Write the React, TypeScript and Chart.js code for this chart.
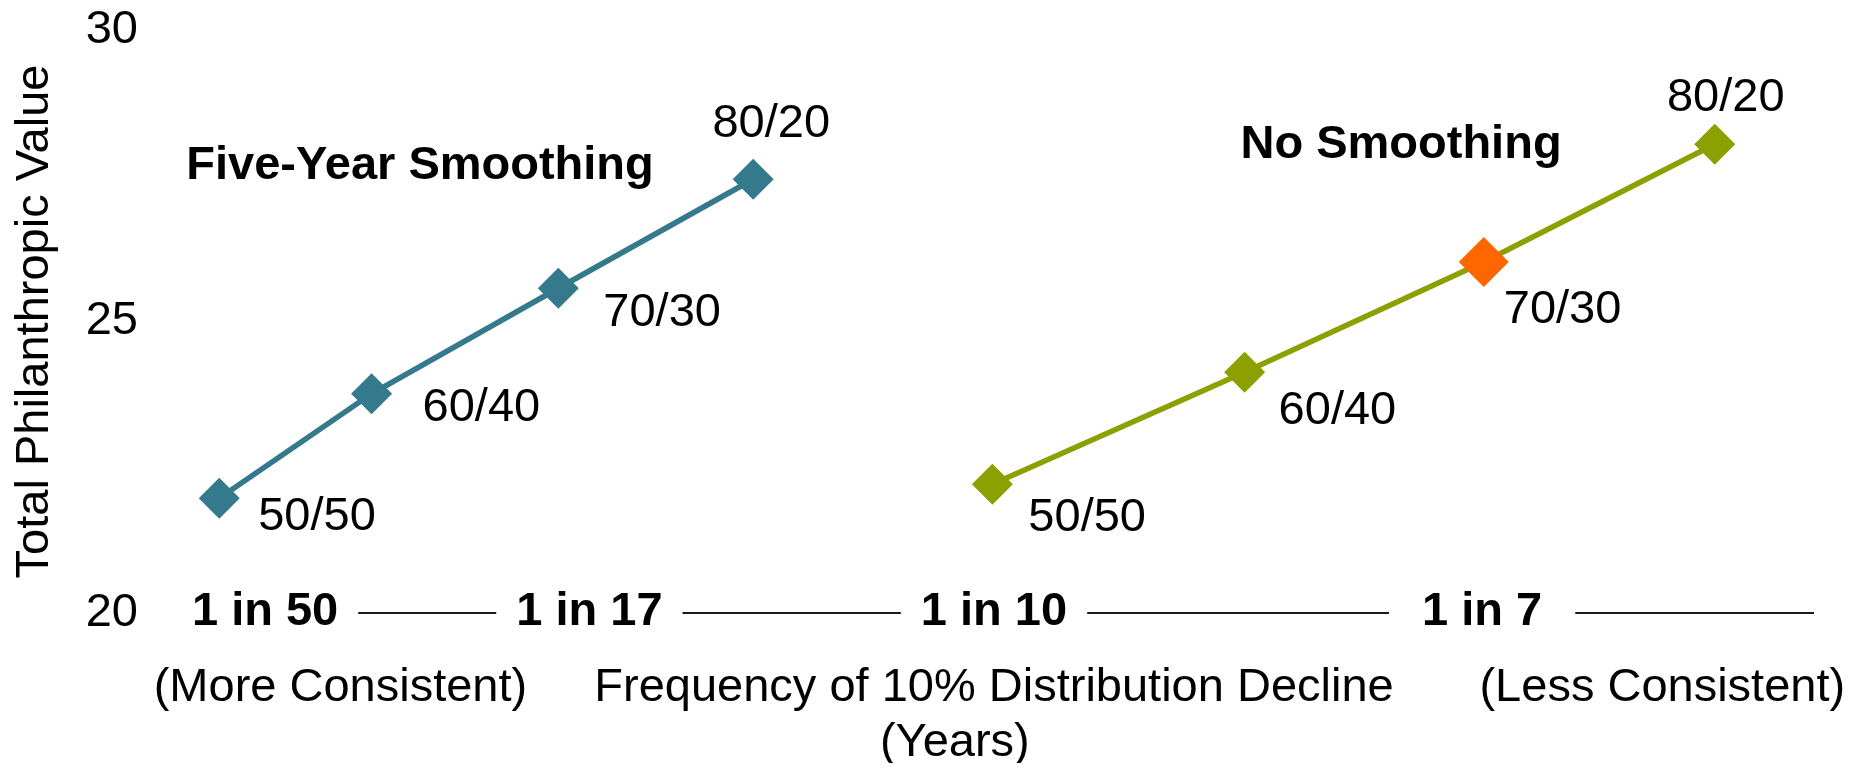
import React, { useEffect, useRef } from "react";
import { Chart, registerables } from "chart.js";

Chart.register(...registerables);

const FONT = "'Liberation Sans', Arial, Helvetica, sans-serif";

// ---- data ----
const pointLabels = ["50/50", "60/40", "70/30", "80/20"];
const fiveYearX = [2.7, 12.0, 23.4, 35.3];
const fiveYearY = [21.97, 23.76, 25.57, 27.44];
const noSmoothX = [49.9, 65.3, 79.9, 94.0];
const noSmoothY = [22.21, 24.13, 26.02, 28.04];
const xTickValues = [5.5, 25.3, 50.0, 79.8];
const xTickLabels = ["1 in 50", "1 in 17", "1 in 10", " 1 in 7 "];
const xTitleLines = ["Frequency of 10% Distribution Decline", "(Years)      "];
const yTitle = "Total Philanthropic Value";
const endLabels = ["(More Consistent)", "(Less Consistent)"];
const endLabelX = [10.1, 90.8];
const seriesNames = ["Five-Year Smoothing", "No Smoothing"];
const seriesNameX = [14.96, 74.85];
const seriesNameY = [27.67, 28.03];
const highlightIndex = 2;

// ---- styles ----
const TEAL = "#347A8C";
const OLIVE = "#8CA000";
const ORANGE = "#FF6600";
const labelOffsets: [number, number, CanvasTextAlign][][] = [
  [[39, 19, "left"], [51, 14, "left"], [45, 25, "left"], [18, -55, "center"]],
  [[36, 34, "left"], [34, 39, "left"], [20, 48, "left"], [11, -46, "center"]],
];

const textPlugin = {
  id: "texts",
  afterDatasetsDraw(chart: any) {
    const ctx = chart.ctx as CanvasRenderingContext2D;
    const xs = chart.scales.x;
    const ys = chart.scales.y;
    ctx.save();
    ctx.fillStyle = "#000";
    ctx.textBaseline = "middle";
    ctx.font = `47px ${FONT}`;
    chart.data.datasets.forEach((_ds: any, i: number) => {
      const meta = chart.getDatasetMeta(i);
      meta.data.forEach((pt: any, j: number) => {
        const [dx, dy, align] = labelOffsets[i][j];
        ctx.textAlign = align;
        ctx.fillText(pointLabels[j], pt.x + dx, pt.y + dy);
      });
    });
    ctx.font = `bold 47px ${FONT}`;
    ctx.textAlign = "center";
    seriesNames.forEach((t, i) => {
      ctx.fillText(t, xs.getPixelForValue(seriesNameX[i]), ys.getPixelForValue(seriesNameY[i]));
    });
    ctx.font = `47px ${FONT}`;
    const yRow = xs.bottom - 55 - 27.5;
    endLabels.forEach((t, i) => {
      ctx.fillText(t, xs.getPixelForValue(endLabelX[i]), yRow);
    });
    ctx.restore();
  },
};

export default function App() {
  const ref = useRef<HTMLCanvasElement | null>(null);

  useEffect(() => {
    if (!ref.current) return;
    Chart.defaults.font.family = FONT;
    const chart = new Chart(ref.current, {
      type: "line",
      data: {
        datasets: [
          {
            label: seriesNames[0],
            data: fiveYearX.map((x, i) => ({ x, y: fiveYearY[i] })),
            borderColor: TEAL,
            backgroundColor: TEAL,
            borderWidth: 5.5,
            pointStyle: "rectRot",
            pointRadius: 20.5,
            pointBorderWidth: 0,
            pointBackgroundColor: TEAL,
            tension: 0,
            clip: false as any,
          },
          {
            label: seriesNames[1],
            data: noSmoothX.map((x, i) => ({ x, y: noSmoothY[i] })),
            borderColor: OLIVE,
            backgroundColor: OLIVE,
            borderWidth: 5.5,
            pointStyle: "rectRot",
            pointRadius: noSmoothX.map((_, i) => (i === highlightIndex ? 25 : 20.5)),
            pointBorderWidth: 0,
            pointBackgroundColor: noSmoothX.map((_, i) => (i === highlightIndex ? ORANGE : OLIVE)),
            tension: 0,
            clip: false as any,
          },
        ],
      },
      options: {
        responsive: false,
        animation: false,
        devicePixelRatio: 1,
        layout: { padding: { top: 22, right: 48, left: 0, bottom: 0 } },
        plugins: {
          legend: { display: false },
          tooltip: { enabled: false },
        },
        scales: {
          x: {
            type: "linear",
            min: 0,
            max: 100,
            grid: { display: false, drawTicks: false },
            border: { display: true, color: "#1a1a1a", width: 2 },
            afterBuildTicks: (s: any) => {
              s.ticks = xTickValues.map((v) => ({ value: v }));
            },
            afterFit: (s: any) => {
              s.height = 158;
              s.paddingTop = 0;
              s.paddingBottom = 0;
            },
            ticks: {
              autoSkip: false,
              maxRotation: 0,
              minRotation: 0,
              mirror: true,
              callback: (_v: any, i: number) => xTickLabels[i],
              font: { family: FONT, size: 47, weight: "bold", lineHeight: 0.02 },
              color: "#000",
              padding: 0,
              showLabelBackdrop: true,
              backdropColor: "#fff",
              backdropPadding: { left: 20, right: 20, top: 5, bottom: 5 },
            } as any,
            title: {
              display: true,
              text: xTitleLines,
              font: { family: FONT, size: 47, lineHeight: 55 / 47 },
              color: "#000",
              padding: { top: 0, bottom: 0 },
            },
          },
          y: {
            min: 20,
            max: 30,
            grid: { display: false, drawTicks: false },
            border: { display: false },
            afterFit: (s: any) => {
              s.width = 167;
              s.paddingTop = 0;
              s.paddingBottom = 0;
            },
            ticks: {
              stepSize: 5,
              font: { family: FONT, size: 47, lineHeight: 0.9 },
              color: "#000",
              padding: 37,
            },
            title: {
              display: true,
              text: yTitle,
              font: { family: FONT, size: 47, lineHeight: 1 },
              color: "#000",
              padding: { top: 4, bottom: 0 },
            },
          },
        },
      },
      plugins: [textPlugin],
    });
    return () => chart.destroy();
  }, []);

  return (
    <div style={{ width: 1853, height: 755 }}>
      <canvas ref={ref} width={1853} height={763} style={{ display: "block" }} />
    </div>
  );
}
